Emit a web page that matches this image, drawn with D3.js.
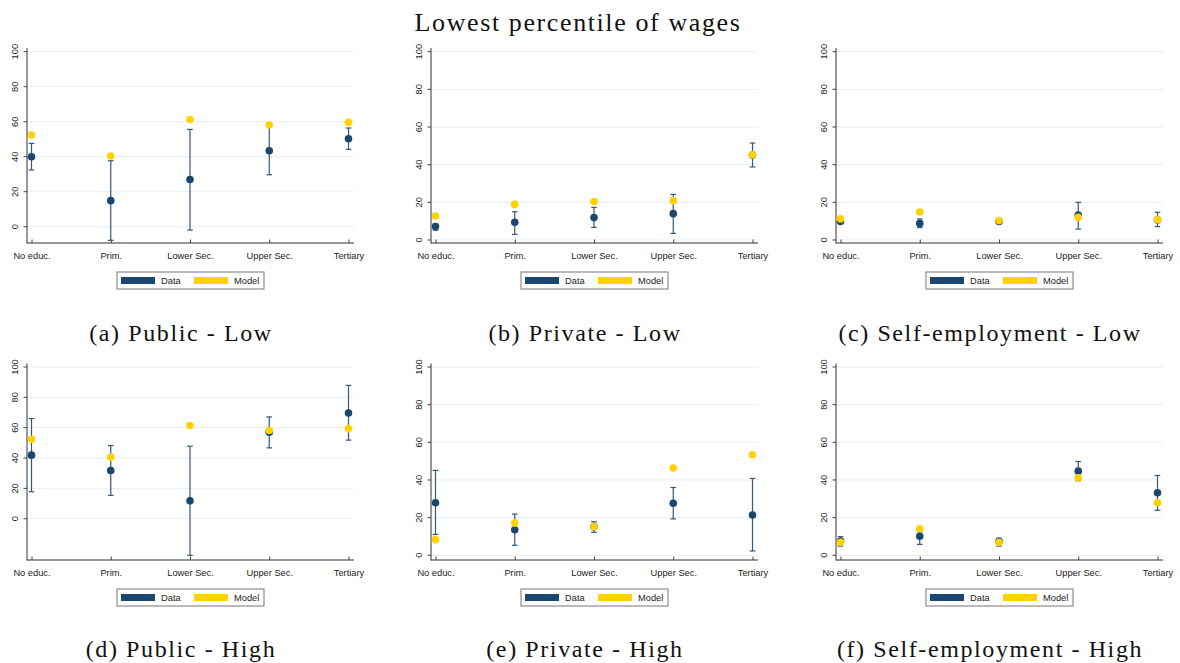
<!DOCTYPE html>
<html lang="en">
<head>
    <meta charset="UTF-8">
    <title>Lowest percentile of wages</title>
    <script src="https://d3js.org/d3.v7.min.js"></script>
    <style>
        body {
            margin: 0;
            background-color: white;
        }
        svg {
            display: block;
        }
        .tick text {
            font-family: "Liberation Sans", Arial, sans-serif;
            font-size: 9.3px;
            fill: #222;
        }
        .caption {
            font-family: "Liberation Serif", "Times New Roman", serif;
            fill: #111;
        }
    </style>
</head>
<body>
    <svg id="chart"></svg>

    <script>
    // categories on the x axis (same in every panel)
    const categories = ["No educ.", "Prim.", "Lower Sec.", "Upper Sec.", "Tertiary"];
    const panelTitles = [
        "(a) Public - Low", "(b) Private - Low", "(c) Self-employment - Low",
        "(d) Public - High", "(e) Private - High", "(f) Self-employment - High"
    ];
    const yTicks = [0, 20, 40, 60, 80, 100];
    // lower end of each panel's y axis
    const yAxisLow = [-9.3, -1.6, -1.6, -27.2, -2.5, -2.5];

    // one row per panel (a..f), one value per category
    const dataValues = [
        [40.0, 14.9, 27.0, 43.4, 50.3],
        [7.1, 9.4, 11.9, 14.0, 45.1],
        [9.8, 8.8, 9.8, 13.3, 10.6],
        [41.9, 31.8, 11.8, 57.0, 69.7],
        [27.9, 13.6, 15.2, 27.6, 21.4],
        [7.6, 10.1, 7.4, 44.7, 33.2]
    ];
    const ciLow = [
        [32.4, -7.8, -1.9, 29.7, 44.2],
        [5.2, 3.0, 6.7, 3.5, 38.8],
        [9.2, 6.6, 9.3, 5.8, 7.1],
        [17.8, 15.4, -24.1, 46.7, 51.8],
        [11.1, 5.3, 12.2, 19.3, 2.3],
        [4.9, 5.8, 4.9, 39.6, 23.9]
    ];
    const ciHigh = [
        [47.6, 37.7, 55.6, 57.0, 56.4],
        [8.5, 15.0, 17.3, 24.2, 51.5],
        [10.5, 11.2, 10.4, 20.0, 14.7],
        [66.0, 48.2, 47.8, 67.1, 87.9],
        [45.1, 21.9, 17.8, 36.0, 40.8],
        [9.9, 12.5, 9.0, 49.8, 42.4]
    ];
    const modelValues = [
        [52.4, 40.4, 61.3, 58.1, 59.6],
        [12.7, 18.9, 20.4, 20.9, 45.3],
        [11.2, 14.9, 10.3, 12.0, 10.8],
        [52.4, 40.6, 61.4, 58.1, 59.4],
        [8.3, 17.1, 15.2, 46.3, 53.4],
        [6.9, 14.1, 6.9, 41.2, 27.9]
    ];

    const width = 1180, height = 663;
    const dataColor = "#1a476f", modelColor = "#ffd200";
    const gridColor = "#e6eff1";

    const colX = [27, 431, 836];          // y-axis line per column
    const rowTop = [51.7, 367];           // pixel of y = 100
    const rowBottom = [243, 560];         // x-axis line
    const plotW = 327;

    const svg = d3.select("#chart")
        .attr("width", width)
        .attr("height", height);

    svg.append("text")
        .attr("class", "caption")
        .attr("x", 578)
        .attr("y", 31)
        .attr("text-anchor", "middle")
        .style("font-size", "26px")
        .style("letter-spacing", "1.6px")
        .text("Lowest percentile of wages");

    function drawPanel(p) {
        const col = p % 3, row = Math.floor(p / 3);
        const x0 = colX[col], yBot = rowBottom[row], yTop = rowTop[row];
        const g = svg.append("g");

        const xScale = d3.scalePoint()
            .domain(categories)
            .range([x0 + 4.5, x0 + plotW - 5.5]);
        const yScale = d3.scaleLinear()
            .domain([yAxisLow[p], 100])
            .range([yBot, yTop]);

        // grid lines
        g.selectAll(".grid")
            .data(yTicks)
            .enter().append("line")
            .attr("x1", x0 + 1).attr("x2", x0 + plotW)
            .attr("y1", d => yScale(d)).attr("y2", d => yScale(d))
            .attr("stroke", gridColor)
            .attr("stroke-width", 1);

        // y axis
        const yAxis = g.append("g")
            .attr("transform", `translate(${x0},0)`)
            .call(d3.axisLeft(yScale).tickValues(yTicks).tickSize(3.5).tickPadding(6));
        yAxis.select(".domain").remove();
        yAxis.selectAll(".tick line").attr("stroke", "#444");
        yAxis.selectAll(".tick text")
            .attr("x", -12)
            .attr("dy", null)
            .attr("text-anchor", "middle")
            .attr("dominant-baseline", "central")
            .attr("transform", d => `rotate(-90, -12, ${yScale(d)}) translate(0, ${yScale(d)})`)
            .attr("y", 0);
        yAxis.selectAll(".tick").attr("transform", null);
        yAxis.selectAll(".tick line")
            .attr("y1", d => yScale(d)).attr("y2", d => yScale(d));

        // x axis
        const xAxis = g.append("g")
            .attr("transform", `translate(0,${yBot})`)
            .call(d3.axisBottom(xScale).tickSize(-3.5).tickPadding(9));
        xAxis.select(".domain").remove();
        xAxis.selectAll(".tick line").attr("stroke", "#444");

        // axis lines
        g.append("line")
            .attr("x1", x0).attr("x2", x0)
            .attr("y1", yTop - 3.5).attr("y2", yBot + 0.5)
            .attr("stroke", "#333").attr("stroke-width", 1);
        g.append("line")
            .attr("x1", x0).attr("x2", x0 + plotW)
            .attr("y1", yBot).attr("y2", yBot)
            .attr("stroke", "#333").attr("stroke-width", 1);

        // confidence intervals (range caps)
        const idx = d3.range(categories.length);
        const ci = g.append("g")
            .attr("stroke", "#34597c")
            .attr("stroke-width", 1.2);
        ci.selectAll(".bar").data(idx).enter().append("line")
            .attr("x1", i => xScale(categories[i])).attr("x2", i => xScale(categories[i]))
            .attr("y1", i => yScale(ciLow[p][i])).attr("y2", i => yScale(ciHigh[p][i]));
        ci.selectAll(".capLo").data(idx).enter().append("line")
            .attr("x1", i => xScale(categories[i]) - 2.8).attr("x2", i => xScale(categories[i]) + 2.8)
            .attr("y1", i => yScale(ciLow[p][i])).attr("y2", i => yScale(ciLow[p][i]));
        ci.selectAll(".capHi").data(idx).enter().append("line")
            .attr("x1", i => xScale(categories[i]) - 2.8).attr("x2", i => xScale(categories[i]) + 2.8)
            .attr("y1", i => yScale(ciHigh[p][i])).attr("y2", i => yScale(ciHigh[p][i]));

        // data and model points
        g.selectAll(".data").data(idx).enter().append("circle")
            .attr("cx", i => xScale(categories[i]))
            .attr("cy", i => yScale(dataValues[p][i]))
            .attr("r", 3.8)
            .attr("fill", dataColor);
        g.selectAll(".model").data(idx).enter().append("circle")
            .attr("cx", i => xScale(categories[i]))
            .attr("cy", i => yScale(modelValues[p][i]))
            .attr("r", 3.8)
            .attr("fill", modelColor);

        // legend
        const lx = x0 + plotW / 2 - 73.5, ly = yBot + 29;
        const legend = g.append("g").attr("transform", `translate(${lx},${ly})`);
        legend.append("rect")
            .attr("width", 147).attr("height", 17)
            .attr("fill", "white").attr("stroke", "#777").attr("stroke-width", 1);
        [["Data", dataColor, 4], ["Model", modelColor, 77]].forEach(([label, color, off]) => {
            legend.append("rect")
                .attr("x", off).attr("y", 5)
                .attr("width", 34).attr("height", 7)
                .attr("fill", color);
            legend.append("text")
                .attr("x", off + 40).attr("y", 12)
                .style("font-family", "'Liberation Sans', Arial, sans-serif")
                .style("font-size", "9.3px")
                .attr("fill", "#222")
                .text(label);
        });

        // sub caption
        svg.append("text")
            .attr("class", "caption")
            .attr("x", x0 + 154)
            .attr("y", row === 0 ? 340.7 : 657)
            .attr("text-anchor", "middle")
            .style("font-size", "24px")
            .style("letter-spacing", "1.6px")
            .text(panelTitles[p]);
    }

    d3.range(6).forEach(drawPanel);
    </script>
</body>
</html>
